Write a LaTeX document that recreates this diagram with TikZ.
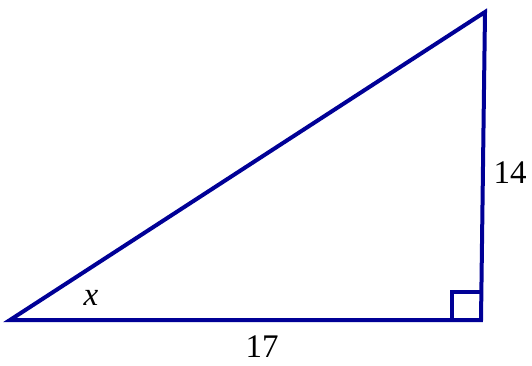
\documentclass[tikz,border=0pt]{standalone}
\usepackage{fontspec}
\setmainfont{Liberation Serif}
\definecolor{navy}{RGB}{0,0,150}
\tikzset{lbl/.style={font=\fontsize{33}{33}\selectfont}}
\begin{document}
\begin{tikzpicture}[x=1pt,y=-1pt]
      \useasboundingbox (0,0) rectangle (532,365);
      % vertices
      \coordinate (A) at (10,320);
      \coordinate (B) at (481,320);
      \coordinate (C) at (485,12);
      \draw[navy,line width=4pt,line join=miter] (A) -- (B) -- (C) -- cycle;
      % right angle mark
      \draw[navy,line width=3.4pt] (452,320) -- (452,292) -- (481.4,292);
      \node[lbl] (angx) at (91,298) {\textit{x}};
      \node[lbl] (base) at (262,347) {17};
      \node[lbl] (side) at (510,173) {14};
    \end{tikzpicture}
\end{document}
